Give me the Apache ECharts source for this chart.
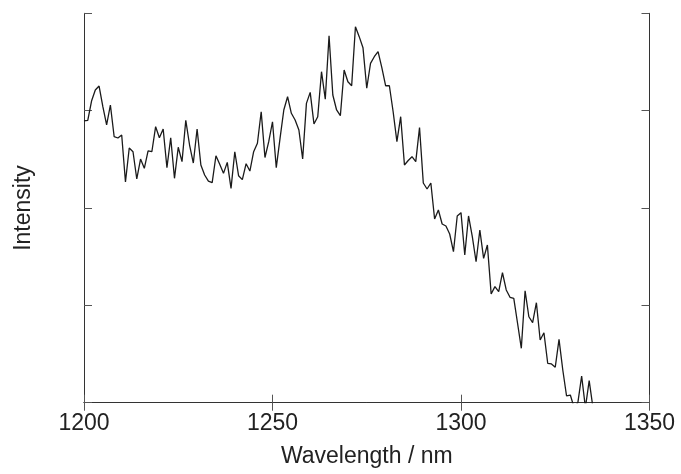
<!DOCTYPE html>
<html>
<head>
<meta charset="utf-8">
<script src="https://cdn.jsdelivr.net/npm/echarts@6/dist/echarts.min.js"></script>
<style>html,body{margin:0;padding:0;background:#fff}#c{width:681px;height:474px}</style>
</head>
<body>
<div id="c"></div>
<script>
var wavelengths = [1200,1201,1202,1203,1204,1205,1206,1207,1208,1209,1210,1211,1212,1213,1214,1215,1216,1217,1218,1219,
1220,1221,1222,1223,1224,1225,1226,1227,1228,1229,1230,1231,1232,1233,1234,1235,1236,1237,1238,1239,
1240,1241,1242,1243,1244,1245,1246,1247,1248,1249,1250,1251,1252,1253,1254,1255,1256,1257,1258,1259,
1260,1261,1262,1263,1264,1265,1266,1267,1268,1269,1270,1271,1272,1273,1274,1275,1276,1277,1278,1279,
1280,1281,1282,1283,1284,1285,1286,1287,1288,1289,1290,1291,1292,1293,1294,1295,1296,1297,1298,1299,
1300,1301,1302,1303,1304,1305,1306,1307,1308,1309,1310,1311,1312,1313,1314,1315,1316,1317,1318,1319,
1320,1321,1322,1323,1324,1325,1326,1327,1328,1329,1330,1331,1332,1333,1334,1335];
var intensity = [2.894,2.901,3.099,3.212,3.253,3.041,2.853,3.058,2.732,2.719,2.750,2.267,2.616,2.578,2.298,2.503,2.408,2.586,2.578,2.835,
2.722,2.811,2.414,2.722,2.305,2.624,2.476,2.901,2.647,2.462,2.811,2.442,2.339,2.277,2.260,2.537,2.449,2.356,2.469,2.202,
2.578,2.332,2.291,2.455,2.380,2.578,2.665,2.989,2.519,2.681,2.886,2.414,2.716,3.007,3.143,2.973,2.904,2.801,2.503,3.075,
3.188,2.863,2.938,3.400,3.117,3.770,3.161,3.007,2.948,3.418,3.297,3.256,3.862,3.760,3.647,3.230,3.486,3.554,3.606,3.441,
3.256,3.256,2.989,2.681,2.938,2.442,2.488,2.527,2.476,2.827,2.257,2.195,2.257,1.887,1.979,1.836,1.815,1.733,1.551,1.918,
1.952,1.517,1.918,1.705,1.448,1.774,1.483,1.620,1.117,1.192,1.140,1.335,1.158,1.083,1.072,0.816,0.559,1.150,0.883,0.822,
1.027,0.644,0.719,0.405,0.398,0.364,0.651,0.336,0.069,0.079,-0.05,0.0,0.274,-0.05,0.226,-0.05];
var xTicks = [1200,1250,1300,1350];

var chart = echarts.init(document.getElementById('c'), null, {renderer:'canvas'});
var font = 'Liberation Sans, Arial, sans-serif';
var axisLine = {show:true, lineStyle:{color:'#333', width:1}};
var ticks = {show:true, inside:true, length:8, lineStyle:{color:'#555', width:1}};
chart.setOption({
  animation:false,
  backgroundColor:'#fff',
  grid:{left:84, right:31.5, top:13.3, bottom:71.3, containLabel:false},
  xAxis:[{
    type:'value', min:xTicks[0], max:xTicks[xTicks.length-1], interval:50,
    name:'Wavelength / nm', nameLocation:'middle', nameGap:42,
    nameTextStyle:{fontFamily:font, fontSize:23, color:'#222'},
    axisLine:axisLine, axisTick:ticks, splitLine:{show:false},
    axisLabel:{fontFamily:font, fontSize:23, color:'#222', margin:9,
      formatter:function(v){return String(v);}}
  },{
    type:'value', position:'top', min:xTicks[0], max:xTicks[xTicks.length-1], interval:50,
    axisLine:axisLine, axisTick:ticks, splitLine:{show:false}, axisLabel:{show:false}
  }],
  yAxis:[{
    type:'value', min:0, max:4, interval:1,
    name:'Intensity', nameLocation:'middle', nameGap:49,
    nameTextStyle:{fontFamily:font, fontSize:23, color:'#222'},
    axisLine:axisLine, axisTick:ticks, splitLine:{show:false}, axisLabel:{show:false}
  },{
    type:'value', position:'right', min:0, max:4, interval:1,
    axisLine:axisLine, axisTick:ticks, splitLine:{show:false}, axisLabel:{show:false}
  }],
  series:[{
    type:'line', showSymbol:false, symbol:'none', clip:true,
    lineStyle:{color:'#1a1a1a', width:1.3},
    data: wavelengths.map(function(w,i){return [w, intensity[i]];})
  }]
});
</script>
</body>
</html>
